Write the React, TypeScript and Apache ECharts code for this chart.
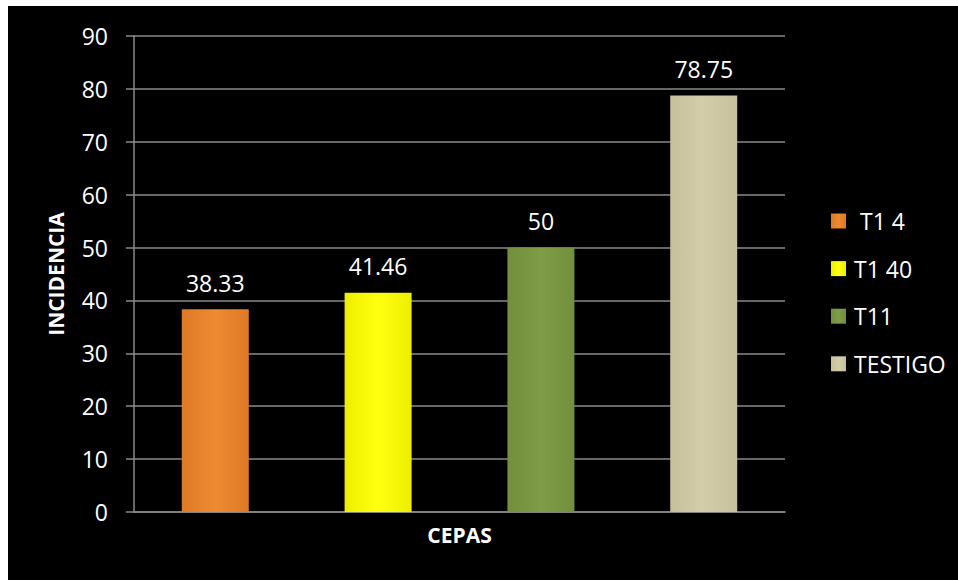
import React, { useEffect, useRef } from "react";
import * as echarts from "echarts";

const categories = [""];
const seriesNames = [" T1 4", "T1 40", "T11", "TESTIGO"];
const seriesValues = [38.33, 41.46, 50, 78.75];
const seriesColors = [
  ["#de7a26", "#ee8a30", "#de7a26"],
  ["#eeee00", "#ffff10", "#eeee00"],
  ["#718f3c", "#7f9c48", "#718f3c"],
  ["#c6c09c", "#d3cdaa", "#c6c09c"],
];
const yTicks = { min: 0, max: 90, interval: 10 };

const FONT = "'Open Sans', sans-serif";

export default function App() {
  const ref = useRef<HTMLDivElement>(null);
  useEffect(() => {
    if (!ref.current) return;
    const chart = echarts.init(ref.current, null, { renderer: "svg" });
    const gray = "#8a8a8a";
    chart.setOption({
      animation: false,
      backgroundColor: "#000000",
      textStyle: { fontFamily: FONT },
      grid: { left: 126, top: 30, right: 173, bottom: 68, containLabel: false },
      legend: {
        orient: "vertical",
        left: 818,
        top: 198,
        itemWidth: 15,
        itemHeight: 15,
        itemGap: 23.6,
        icon: "rect",
        data: seriesNames,
        textStyle: { color: "#ffffff", fontSize: 23, fontFamily: FONT, lineHeight: 24, padding: [0, 0, 0, 3] },
      },
      xAxis: {
        type: "category",
        data: categories,
        name: "CEPAS",
        nameLocation: "middle",
        nameGap: 12,
        nameTextStyle: { color: "#ffffff", fontSize: 21, fontWeight: "bold", fontFamily: FONT, verticalAlign: "top" },
        axisLine: { show: true, lineStyle: { color: gray, width: 1.5 } },
        axisTick: { show: false },
        axisLabel: { show: false },
      },
      yAxis: {
        type: "value",
        min: yTicks.min,
        max: yTicks.max,
        interval: yTicks.interval,
        name: "INCIDENCIA",
        nameLocation: "middle",
        nameRotate: 90,
        nameGap: 68,
        nameTextStyle: { color: "#ffffff", fontSize: 21, fontWeight: "bold", fontFamily: FONT },
        axisLine: { show: true, lineStyle: { color: gray, width: 1.5 } },
        axisTick: { show: true, length: 8, lineStyle: { color: gray, width: 1.5 } },
        axisLabel: { color: "#ffffff", fontSize: 23, fontFamily: FONT, margin: 26 },
        splitLine: { show: true, lineStyle: { color: gray, width: 1.5 } },
      },
      series: seriesNames.map((name, i) => ({
        name,
        type: "bar",
        data: [seriesValues[i]],
        barWidth: 67,
        barGap: "143%",
        itemStyle: {
          color: new echarts.graphic.LinearGradient(0, 0, 1, 0, [
            { offset: 0, color: seriesColors[i][0] },
            { offset: 0.5, color: seriesColors[i][1] },
            { offset: 1, color: seriesColors[i][2] },
          ]),
        },
        label: {
          show: true,
          position: "top",
          distance: 15,
          color: "#ffffff",
          fontSize: 23,
          fontFamily: FONT,
          formatter: (p: any) => String(p.value),
        },
      })),
      color: seriesColors.map((c) => c[1]),
    });
    return () => chart.dispose();
  }, []);
  return (
    <div
      ref={ref}
      style={{ position: "absolute", left: 8, top: 6, width: 950, height: 574 }}
    />
  );
}
